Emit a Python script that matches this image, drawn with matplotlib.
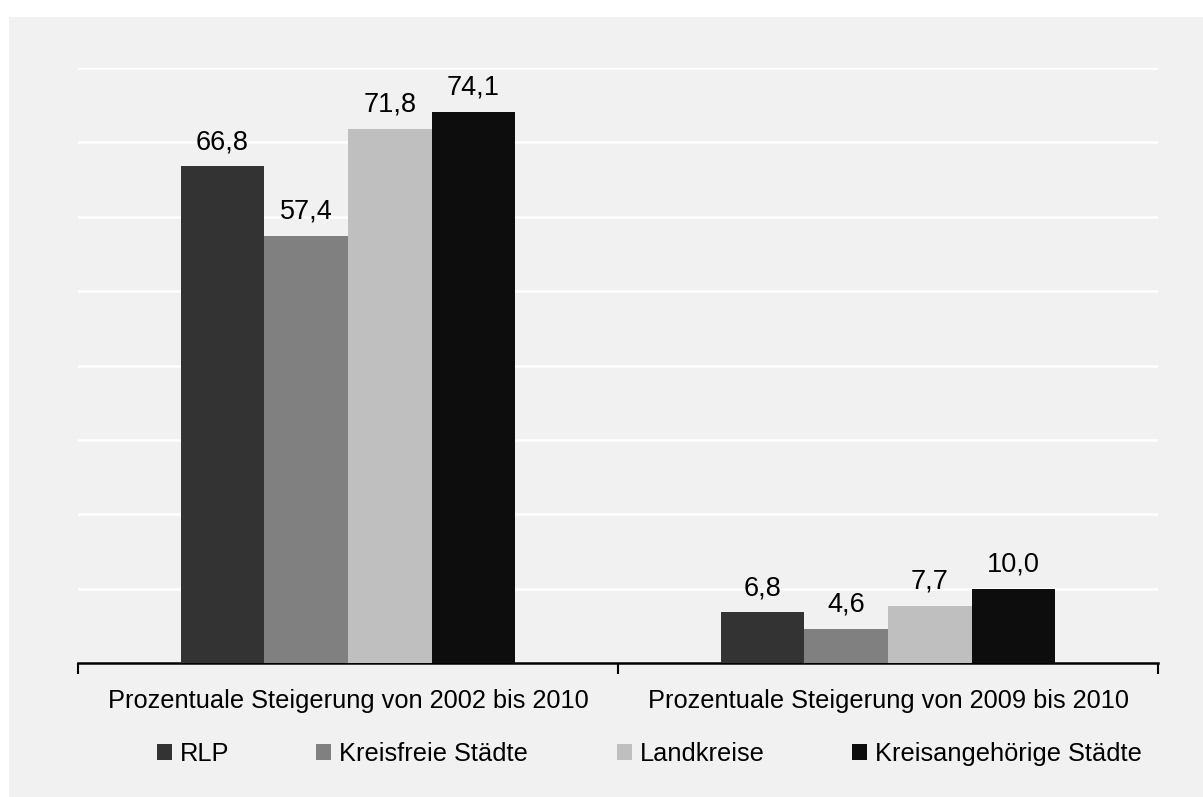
import numpy as np
import matplotlib
matplotlib.use("Agg")
import matplotlib.pyplot as plt
from matplotlib.patches import Rectangle

groups = ["Prozentuale Steigerung von 2002 bis 2010", "Prozentuale Steigerung von 2009 bis 2010"]
series = ["RLP", "Kreisfreie Städte", "Landkreise", "Kreisangehörige Städte"]
rlp = [66.8, 6.8]
kreisfreie = [57.4, 4.6]
landkreise = [71.8, 7.7]
kreisangehoerige = [74.1, 10.0]
colors = ["#333333", "#808080", "#bfbfbf", "#0d0d0d"]

plt.rcParams["font.family"] = ["Liberation Sans", "DejaVu Sans"]
fs = 18.3

fig = plt.figure(figsize=(12.03, 7.97), dpi=100)
fig.patch.set_facecolor("white")
fig.patches.append(Rectangle((9 / 1203, 0), 1, 780 / 797, transform=fig.transFigure,
                             facecolor="#f1f1f1", edgecolor="none", zorder=-10))

ax = fig.add_axes([78 / 1203, (797 - 663) / 797, (1158 - 78) / 1203, (663 - 68) / 797])
ax.set_facecolor("none")

values = [rlp, kreisfreie, landkreise, kreisangehoerige]
x = np.arange(len(groups))
width = 0.155
handles = []
for i, (name, vals, c) in enumerate(zip(series, values, colors)):
    pos = x + (i - 1.5) * width
    bars = ax.bar(pos, vals, width, color=c, label=name, zorder=3)
    handles.append(bars)
    for b, v in zip(bars, vals):
        ax.annotate(f"{v:.1f}".replace(".", ","), (b.get_x() + b.get_width() / 2, v),
                    xytext=(0, 8), textcoords="offset points", ha="center", va="bottom",
                    fontsize=19.5)

ax.set_xlim(-0.5, 1.5)
ax.set_ylim(0, 80)
ax.set_yticks(np.arange(10, 81, 10))
ax.yaxis.grid(True, color="white", linewidth=1.8, zorder=0)
ax.tick_params(axis="y", length=0, labelleft=False)
for s in ["top", "right", "left"]:
    ax.spines[s].set_visible(False)
ax.spines["bottom"].set_linewidth(1.8)

ax.set_xticks(x)
ax.set_xticklabels(groups, fontsize=fs)
ax.set_xticks([-0.5, 0.5, 1.5], minor=True)
ax.tick_params(axis="x", which="major", length=0, pad=19)
ax.tick_params(axis="x", which="minor", length=8, width=1.5, direction="out")

# legend entries placed like the original (uneven spacing)
legend_x = [157, 316, 617, 852]
for h, name, lx in zip(handles, series, legend_x):
    fig.legend([h], [name], loc="center left", bbox_to_anchor=(lx / 1203, (797 - 754) / 797),
               frameon=False, fontsize=fs, handlelength=0.6, handleheight=0.6,
               handletextpad=0.3, borderpad=0, borderaxespad=0)

fig.savefig("out.png", dpi=100, facecolor=fig.get_facecolor())
